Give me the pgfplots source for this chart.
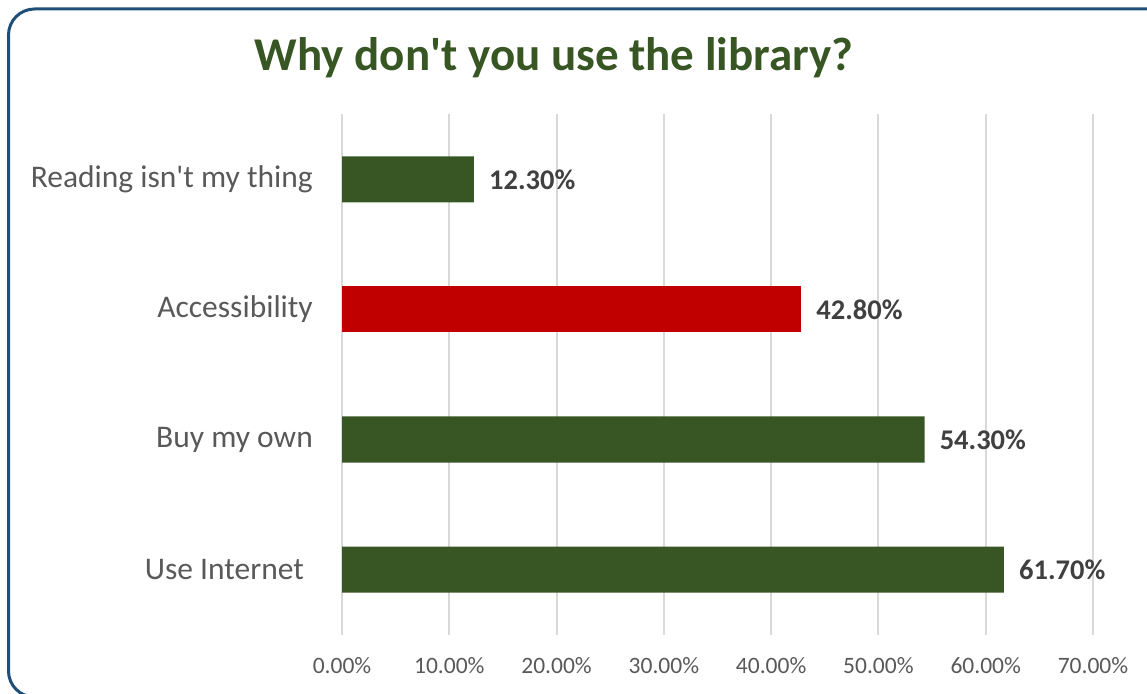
\documentclass[border=0pt]{standalone}
\usepackage{pgfplots}
\pgfplotsset{compat=1.18}
\usepackage{fontspec}
\setmainfont{Carlito}

\definecolor{bargreen}{HTML}{375623}
\definecolor{barred}{HTML}{C00000}
\definecolor{framecol}{HTML}{1F4E79}
\definecolor{gridcol}{HTML}{D9D9D9}
\definecolor{ticktext}{HTML}{595959}
\definecolor{labeltext}{HTML}{404040}

\begin{document}
\begin{tikzpicture}[x=1pt,y=1pt]
\useasboundingbox (0,0) rectangle (1147,693);
\clip (0,0) rectangle (1147,693);
\draw[framecol, line width=3pt, rounded corners=26pt] (8.5,-4) rectangle (1190,684);
\node[anchor=base, text=bargreen, inner sep=0pt, font=\fontsize{47}{50}\selectfont\bfseries] at (554,622) {Why don\textquotesingle t you use the library?};

\begin{axis}[
    at={(342pt,58.5pt)}, anchor=south west,
    scale only axis,
    width=751pt, height=520pt,
    xbar, bar width=46pt,
    xmin=0, xmax=70,
    ymin=-0.5, ymax=3.5,
    xtick={0,10,...,70},
    ytick={0,1,2,3},
    yticklabels={Use Internet\hspace*{9pt}, Buy my own, Accessibility, Reading isn\textquotesingle t my thing},
    /pgf/number format/assume math mode=true,
    xticklabel={\pgfmathprintnumber[fixed,fixed zerofill,precision=2]{\tick}\%},
    xticklabel style={font=\fontsize{23.5}{28}\selectfont, text=ticktext, inner sep=0pt, anchor=north, yshift=-23pt},
    yticklabel style={font=\fontsize{31.5}{36}\selectfont, text=ticktext, inner sep=0pt, anchor=east, xshift=-29pt},
    axis line style={draw=none},
    major tick length=0pt,
    xmajorgrids,
    grid style={gridcol, line width=2pt},
    nodes near coords={\pgfmathprintnumber[fixed,fixed zerofill,precision=2]{\pgfplotspointmeta}\%},
    nodes near coords style={anchor=west, inner sep=0pt, xshift=15pt, text=labeltext, font=\fontsize{28.5}{32}\selectfont\bfseries},
]
\addplot[fill=bargreen, draw=none, bar shift=0pt] coordinates {(61.7,0) (54.3,1) (12.3,3)};
\addplot[fill=barred, draw=none, bar shift=0pt] coordinates {(42.8,2)};
\end{axis}
\end{tikzpicture}
\end{document}
